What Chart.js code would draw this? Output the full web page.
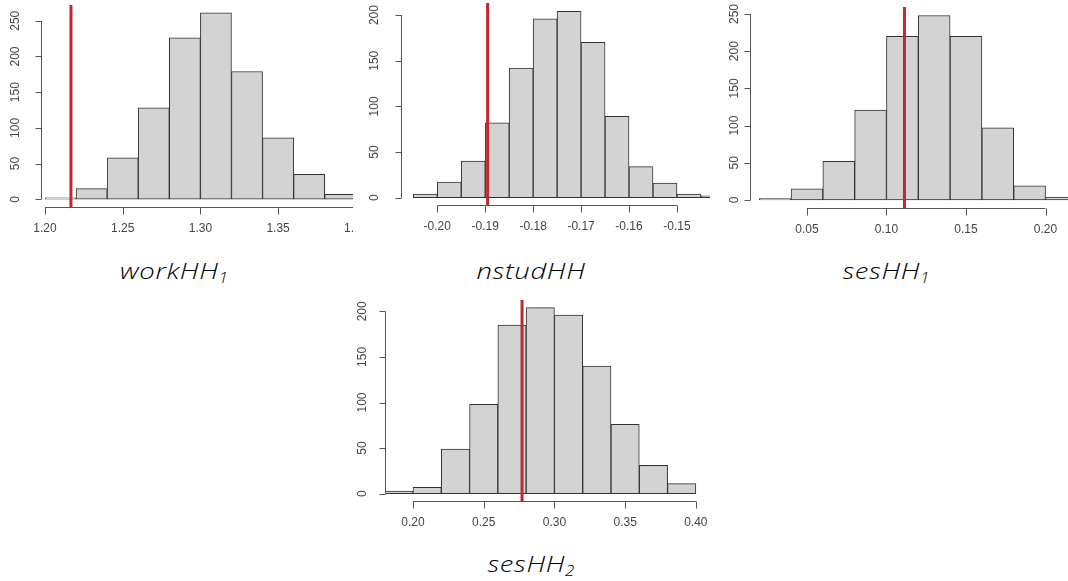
<!DOCTYPE html>
<html>
<head>
<meta charset="utf-8">
<script src="https://cdn.jsdelivr.net/npm/chart.js@4.4.0/dist/chart.umd.min.js"></script>
<style>
  body { margin: 0; background: #fff; width: 1068px; height: 581px; position: relative; overflow: hidden; }
  canvas { position: absolute; }
  .title {
    position: absolute;
    font-family: 'Open Sans', sans-serif;
    font-style: italic;
    font-weight: 300;
    font-size: 22px;
    line-height: 22px;
    color: #000;
    white-space: nowrap;
    letter-spacing: 0.5px;
    transform: translateX(-50%) scaleX(1.25);
  }
  .title sub { font-size: 0.62em; vertical-align: -0.3em; line-height: 0; letter-spacing: 0; }
</style>
</head>
<body>
<canvas id="c1" width="353" height="240" style="left:0;top:0"></canvas>
<canvas id="c2" width="350" height="240" style="left:360px;top:0"></canvas>
<canvas id="c3" width="353" height="240" style="left:715px;top:0"></canvas>
<canvas id="c4" width="370" height="245" style="left:340px;top:290px"></canvas>

<div class="title" style="left:174px;top:259px">workHH<sub>1</sub></div>
<div class="title" style="left:531px;top:259px">nstudHH</div>
<div class="title" style="left:886px;top:259px">sesHH<sub>1</sub></div>
<div class="title" style="left:531px;top:552px">sesHH<sub>2</sub></div>

<script>
// workHH1
const workBins = [1.20, 1.22, 1.24, 1.26, 1.28, 1.30, 1.32, 1.34, 1.36, 1.38];
const workCounts = [2, 15, 58, 128, 226, 261, 179, 86, 35, 7];
const workTicksX = [1.20, 1.25, 1.30, 1.35, 1.40];
const workTicksY = [0, 50, 100, 150, 200, 250];
const workMark = 1.2167;

// nstudHH
const nstudBins = [-0.205, -0.200, -0.195, -0.190, -0.185, -0.180, -0.175, -0.170, -0.165, -0.160, -0.155, -0.150, -0.145];
const nstudCounts = [4, 17, 40, 82, 142, 196, 204, 170, 89, 34, 16, 4, 2];
const nstudTicksX = [-0.20, -0.19, -0.18, -0.17, -0.16, -0.15];
const nstudTicksY = [0, 50, 100, 150, 200];
const nstudMark = -0.1895;

// sesHH1
const ses1Bins = [0.02, 0.04, 0.06, 0.08, 0.10, 0.12, 0.14, 0.16, 0.18, 0.20];
const ses1Counts = [2, 15, 52, 121, 220, 248, 220, 97, 19, 4];
const ses1TicksX = [0.05, 0.10, 0.15, 0.20];
const ses1TicksY = [0, 50, 100, 150, 200, 250];
const ses1Mark = 0.1113;

// sesHH2
const ses2Bins = [0.18, 0.20, 0.22, 0.24, 0.26, 0.28, 0.30, 0.32, 0.34, 0.36, 0.38];
const ses2Counts = [3, 7, 49, 98, 185, 204, 196, 140, 76, 31, 11];
const ses2TicksX = [0.20, 0.25, 0.30, 0.35, 0.40];
const ses2TicksY = [0, 50, 100, 150, 200];
const ses2Mark = 0.2771;

// R-style axes + red marker line, drawn through the chart scales
const rAxes = {
    id: 'rAxes',
    afterDatasetsDraw(chart, args, o) {
        const { ctx, chartArea: area, scales: { x, y } } = chart;
        ctx.save();

        // marker
        const mx = x.getPixelForValue(o.mark);
        ctx.strokeStyle = '#c1272d';
        ctx.lineWidth = 3;
        ctx.beginPath();
        ctx.moveTo(mx, area.top);
        ctx.lineTo(mx, area.bottom);
        ctx.stroke();

        ctx.strokeStyle = '#555';
        ctx.lineWidth = 1;
        ctx.fillStyle = '#444';
        ctx.font = '12px "Liberation Sans", Arial, sans-serif';

        // x axis
        const xb = Math.round(area.bottom) + 0.5;
        ctx.beginPath();
        ctx.moveTo(x.getPixelForValue(o.ticksX[0]), xb);
        ctx.lineTo(x.getPixelForValue(o.ticksX[o.ticksX.length - 1]), xb);
        o.ticksX.forEach(v => {
            const px = Math.round(x.getPixelForValue(v)) + 0.5;
            ctx.moveTo(px, xb);
            ctx.lineTo(px, xb + 7);
        });
        ctx.stroke();
        ctx.textAlign = 'center';
        ctx.textBaseline = 'middle';
        o.ticksX.forEach(v => ctx.fillText(v.toFixed(2), x.getPixelForValue(v), xb + 21));

        // y axis
        const yl = Math.round(area.left) - 0.5;
        ctx.beginPath();
        ctx.moveTo(yl, y.getPixelForValue(o.ticksY[0]));
        ctx.lineTo(yl, y.getPixelForValue(o.ticksY[o.ticksY.length - 1]));
        o.ticksY.forEach(v => {
            const py = Math.round(y.getPixelForValue(v)) + 0.5;
            ctx.moveTo(yl, py);
            ctx.lineTo(yl - 6, py);
        });
        ctx.stroke();
        o.ticksY.forEach(v => {
            ctx.save();
            ctx.translate(yl - o.labelGap, y.getPixelForValue(v));
            ctx.rotate(-Math.PI / 2);
            ctx.fillText(String(v), 0, 0);
            ctx.restore();
        });

        ctx.restore();
    }
};

function histogram(id, bins, counts, ticksX, ticksY, mark, xr, yr, pad, labelGap) {
    const w = bins[1] - bins[0];
    const points = bins.map((b, i) => ({ x: b + w / 2, y: counts[i] }));
    return new Chart(document.getElementById(id), {
        type: 'bar',
        data: {
            datasets: [{
                data: points,
                backgroundColor: '#d3d3d3',
                borderColor: '#333',
                borderWidth: 1,
                borderSkipped: false,
                barPercentage: 1,
                categoryPercentage: 1
            }]
        },
        options: {
            responsive: false,
            animation: false,
            layout: { padding: pad },
            scales: {
                x: { type: 'linear', min: xr[0], max: xr[1], offset: false, display: false },
                y: { min: yr[0], max: yr[1], display: false }
            },
            plugins: {
                legend: { display: false },
                tooltip: { enabled: false },
                rAxes: { mark, ticksX, ticksY, labelGap }
            }
        },
        plugins: [rAxes]
    });
}

histogram('c1', workBins, workCounts, workTicksX, workTicksY, workMark,
    [1.19807, 1.39820], [-10.8, 272.1], { left: 42, top: 5, right: 0, bottom: 33 }, 26);
histogram('c2', nstudBins, nstudCounts, nstudTicksX, nstudTicksY, nstudMark,
    [-0.20736, -0.14311], [-8.0, 213.2], { left: 42, top: 3, right: 0, bottom: 35 }, 27);
histogram('c3', ses1Bins, ses1Counts, ses1TicksX, ses1TicksY, ses1Mark,
    [0.01482, 0.21413], [-10.75, 259.4], { left: 36, top: 7, right: 0, bottom: 32 }, 16);
histogram('c4', ses2Bins, ses2Counts, ses2TicksX, ses2TicksY, ses2Mark,
    [0.18091, 0.41], [-8.0, 212.4], { left: 46, top: 10, right: 0, bottom: 34 }, 23);
</script>
</body>
</html>
